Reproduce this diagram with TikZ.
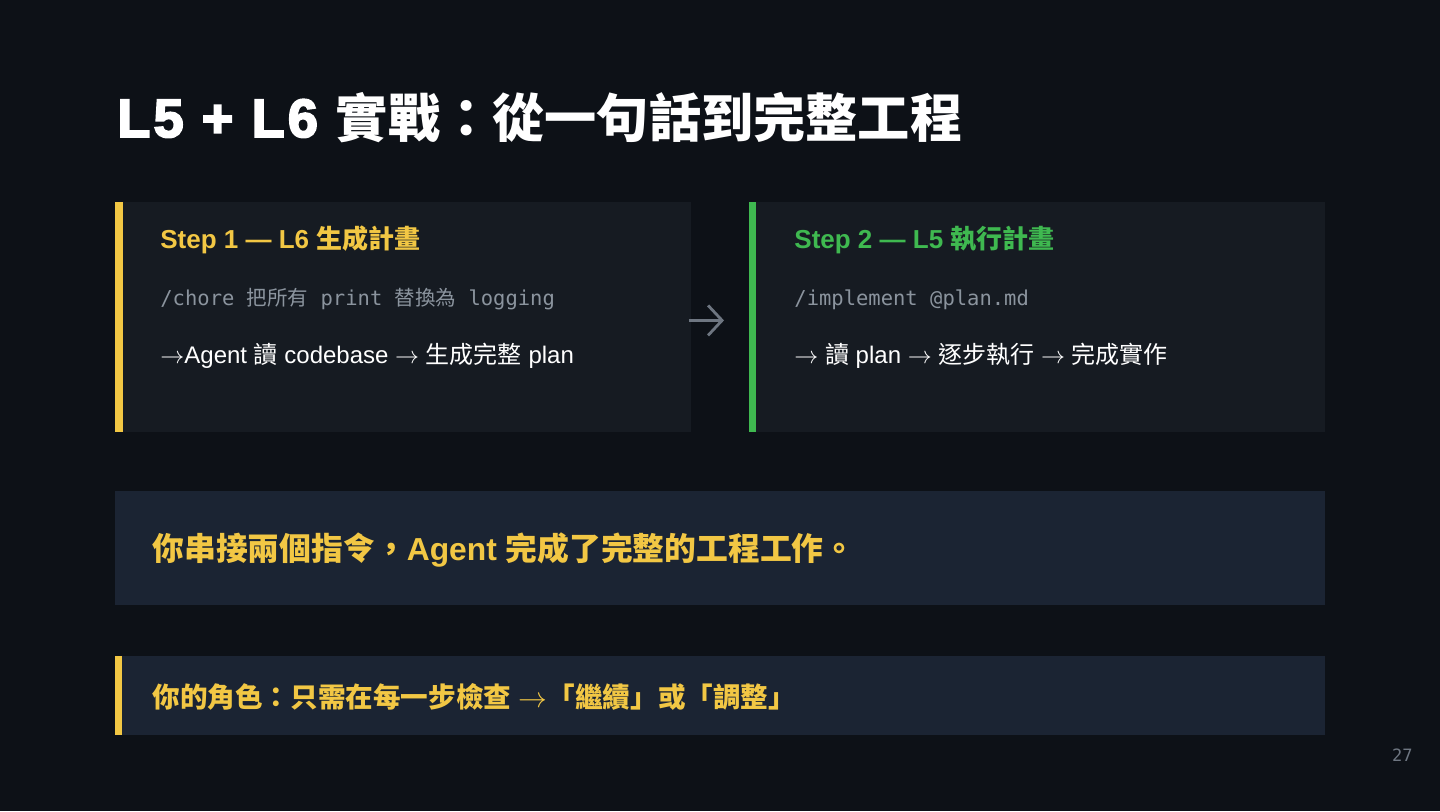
\documentclass[tikz,border=0pt]{standalone}
\usepackage{fontspec}
\setmainfont{Liberation Sans}
\setmonofont{DejaVu Sans Mono}
\newfontfamily\cjk{Noto Sans CJK TC}
\newfontfamily\cjkblack{Noto Sans CJK TC}[UprightFont={* Black}]
\newfontface\titlelatin{Liberation Sans Bold}[FakeBold=3.5, LetterSpace=6]
\usetikzlibrary{positioning,arrows.meta}

\definecolor{pagebg}{HTML}{0D1117}
\definecolor{cardbg}{HTML}{161B22}
\definecolor{notebg}{HTML}{1B2433}
\definecolor{accyellow}{HTML}{F2C744}
\definecolor{accgreen}{HTML}{3FB950}
\definecolor{cmdgray}{HTML}{8B949E}
\definecolor{arrgray}{HTML}{6E7681}

\newcommand\flowarrow{$\rightarrow$}

\begin{document}
\begin{tikzpicture}[
    x=0.5pt, y=-0.5pt,
    card/.style={fill=cardbg, anchor=north west, inner sep=0pt, minimum width=288pt, minimum height=115pt},
    note/.style={fill=notebg, anchor=north west, inner sep=0pt, minimum width=605pt},
    head/.style={anchor=base west, inner sep=0pt, font=\bfseries\fontsize{13}{15}\selectfont},
    cmd/.style={anchor=base west, inner sep=0pt, text=cmdgray, font=\ttfamily\fontsize{10.25}{12}\selectfont},
    body/.style={anchor=base west, inner sep=0pt, text=white, font=\fontsize{12}{14}\selectfont},
    say/.style={anchor=base west, inner sep=0pt, text=accyellow, font=\bfseries},
    flow/.style={draw=arrgray, line width=1.4pt, -{Straight Barb[length=7pt, width=15pt, line width=1.4pt]}}
]
\fill[pagebg] (0,0) rectangle (1440,811);
\useasboundingbox (0,0) rectangle (1440,811);

\node[anchor=base west, inner sep=0pt, text=white, font=\fontsize{27}{32}\selectfont]
    (title) at (117,137) {{\titlelatin L5 + L6}\hspace{9pt}{\cjkblack\fontsize{26.1}{32}\selectfont 實戰：從一句話到完整工程}};

% step 1
\node[card] (card1) at (115,202) {};
\fill[accyellow] (card1.north west) rectangle ++(8,230);
\node[head, text=accyellow] (head1) at ([shift={(45,46)}]card1.north west) {Step 1 — L6 {\cjk 生成計畫}};
\node[cmd] (cmd1) at ([shift={(45,103)}]card1.north west) {/chore {\cjk 把所有} print {\cjk 替換為} logging};
\node[body] (body1) at ([shift={(45,161)}]card1.north west) {\flowarrow Agent {\cjk 讀} codebase \flowarrow{} {\cjk 生成完整} plan};

% step 2
\node[card] (card2) at (749,202) {};
\fill[accgreen] (card2.north west) rectangle ++(7,230);
\node[head, text=accgreen] (head2) at ([shift={(45,46)}]card2.north west) {Step 2 — L5 {\cjk 執行計畫}};
\node[cmd] (cmd2) at ([shift={(45,103)}]card2.north west) {/implement @plan.md};
\node[body] (body2) at ([shift={(45,161)}]card2.north west) {\flowarrow{} {\cjk 讀} plan \flowarrow{} {\cjk 逐步執行} \flowarrow{} {\cjk 完成實作}};

\draw[flow, shorten <=-1.5pt, shorten >=12.5pt] ([yshift=-1.5pt]card1.east) -- ([yshift=-1.5pt]card2.west);

% takeaway
\node[note, minimum height=57pt] (note1) at (115,491) {};
\node[say, font=\bfseries\fontsize{15.9}{19}\selectfont] (say1) at ([shift={(37,69)}]note1.north west)
    {{\cjk 你串接兩個指令，}Agent {\cjk 完成了完整的工程工作。}};

\node[note, minimum height=39.5pt] (note2) at (115,656) {};
\fill[accyellow] (note2.north west) rectangle ++(7,79);
\node[say, font=\bfseries\fontsize{13.8}{16}\selectfont] (say2) at ([shift={(37,51)}]note2.north west)
    {{\cjk 你的角色：只需在每一步檢查} \flowarrow{\cjk 「繼續」或「調整」}};

\node[anchor=base east, inner sep=0pt, text=arrgray, font=\ttfamily\fontsize{8.5}{10}\selectfont] (pageno) at (1413,761) {27};
\end{tikzpicture}
\end{document}
